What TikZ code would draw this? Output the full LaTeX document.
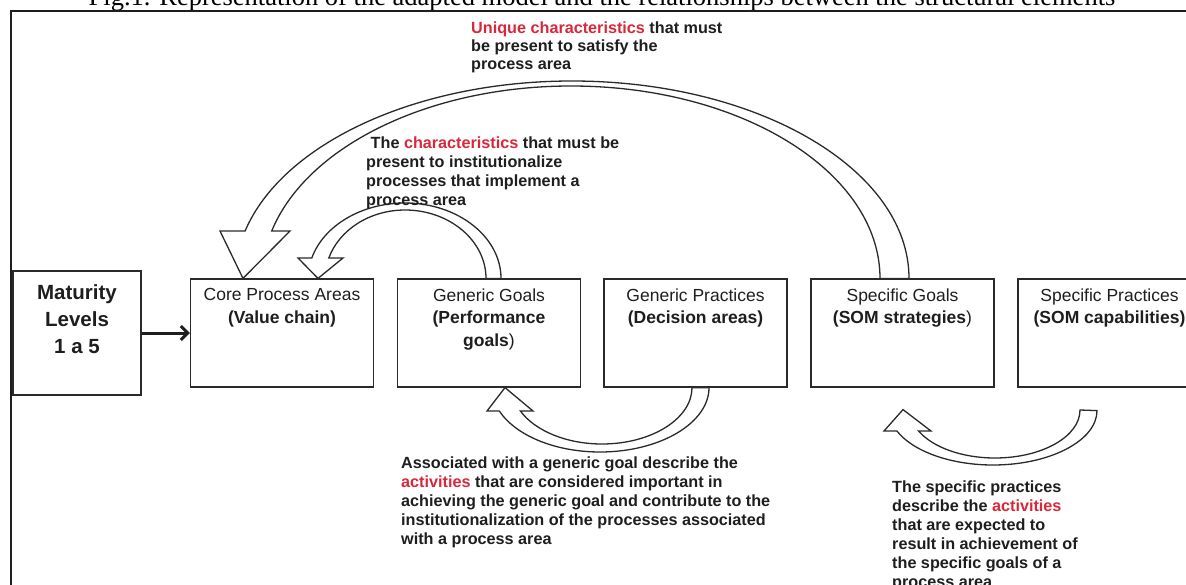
\documentclass[tikz,border=0pt]{standalone}
\usepackage{fontspec}
\setmainfont{Liberation Sans}
\newfontfamily\capfont{Liberation Serif}
\usetikzlibrary{arrows.meta,positioning,calc}
\definecolor{Ink}{HTML}{1E1E1E}
\definecolor{Edge}{HTML}{2A2A2A}
\definecolor{Alert}{HTML}{D8283A}

\newcommand{\boxfont}{\fontsize{17.5}{22.5}\selectfont}
\newcommand{\notefont}{\fontsize{16.2}{18.7}\selectfont\bfseries}
\newcommand{\hl}[1]{\textcolor{Alert}{#1}}

\begin{document}
\begin{tikzpicture}[x=1pt,y=-1pt,
  area/.style={draw=Edge,line width=1.2pt,minimum width=183pt,minimum height=108pt,inner sep=0pt},
  areatext/.style={font=\boxfont,align=center,inner sep=0pt,text=Ink},
  note/.style={font=\notefont,align=left,inner sep=0pt,anchor=north west,text=Ink},
  hollow/.style={draw=Edge,line width=1.3pt,fill=white,line join=miter},
  push/.style={-{Straight Barb[length=7pt,width=14pt]},line width=3pt,draw=Ink}
]
\useasboundingbox (0,0) rectangle (1186,584);
\clip (0,0) rectangle (1186,584);

% caption and frame
\node[font=\capfont\fontsize{26.5}{28}\selectfont,anchor=base,inner sep=0pt] (caption) at (602,5.5)
  {Fig.1. Representation of the adapted model and the relationships between the structural elements};
\draw[line width=2pt,draw=Ink] (11,600) -- (11,11) -- (1200,11);

% the boxes
\node[area,line width=1.6pt,minimum width=128pt,minimum height=124pt] (maturity) at (77,333) {};
\node[area] (core) at (282,333) {};
\node[area] (ggoals) at (489,333) {};
\node[area] (gpract) at (695.5,333) {};
\node[area] (sgoals) at (902.5,333) {};
\node[area] (spract) at (1109.5,333) {};

\node[areatext,font=\fontsize{20.5}{27}\selectfont\bfseries,below=14pt of maturity.north] (maturity-t) {Maturity\\Levels\\1 a 5};
\node[areatext,below=10pt of core.north] (core-t) {Core Process Areas\\\textbf{(Value chain)}};
\node[areatext,below=10pt of ggoals.north] (ggoals-t) {Generic Goals\\\textbf{(Performance}\\\textbf{goals})};
\node[areatext,below=10pt of gpract.north] (gpract-t) {Generic Practices\\\textbf{(Decision areas)}};
\node[areatext,below=10pt of sgoals.north] (sgoals-t) {Specific Goals\\\textbf{(SOM strategies})};
\node[areatext,below=10pt of spract.north] (spract-t) {Specific Practices\\\textbf{(SOM capabilities)}};

\draw[push] (maturity) -- (core);

% Specific Goals back to Core Process Areas
\draw[hollow] ($(sgoals.north)+(6.5,0)$)
  .. controls (909,169.6) and (758.1,81) .. (572,81)
  .. controls (417.4,81) and (282.6,142.9) .. (245.1,231)
  -- (220,231) -- ($(core.north)+(-39,0)$) -- (290,231) -- (271.7,231)
  .. controls (306.8,145.7) and (429.9,86) .. (571,86)
  .. controls (741.7,86) and (880,172.4) .. ($(sgoals.north)+(-22.5,0)$) -- cycle;

% Generic Goals back to Core Process Areas
\draw[hollow] ($(ggoals.north)+(12,0)$)
  .. controls (501,237) and (458,203) .. (405,203)
  .. controls (361.7,203) and (323.7,225.4) .. (311.8,258)
  -- (298,258) -- ($(core.north)+(36,0)$) -- (343,258) -- (328.8,258)
  .. controls (339.4,229.4) and (370.2,210) .. (405,210)
  .. controls (449.7,210) and (486,240.9) .. ($(ggoals.north)+(-3,0)$) -- cycle;

% Generic Practices to Generic Goals
\draw[hollow] ($(gpract.south)+(13.5,0)$)
  .. controls (709,422.9) and (660.2,452) .. (600,452)
  .. controls (555.4,452) and (515.8,435.7) .. (499.3,411)
  -- (487,411) -- ($(ggoals.south)+(16,0)$) -- (533,411) -- (520.4,411)
  .. controls (535.2,431.1) and (567,444) .. (602,444)
  .. controls (651.7,444) and (692,418.5) .. ($(gpract.south)+(-3.5,0)$) -- cycle;

% Specific Practices to Specific Goals
\draw[hollow] ($(spract.south)+(-12.5,23)$)
  .. controls (1097,440.4) and (1050.4,465) .. (993,465)
  .. controls (950.9,465) and (913,451.5) .. (896.9,431)
  -- (884,431) -- ($(sgoals.south)+(0.5,22)$) -- (931,431) -- (918.6,431)
  .. controls (932.8,447.5) and (962.4,458) .. (995,458)
  .. controls (1041.9,458) and (1080,436.5) .. (1080,410) -- cycle;

% notes
\node[note,font=\fontsize{16.2}{18}\selectfont\bfseries] (unique) at (471,22)
  {\hl{Unique characteristics} that must\\be present to satisfy the\\process area};
\node[note] (institute) at (366,137)
  {~The \hl{characteristics} that must be\\present to institutionalize\\processes that implement a\\process area};
\node[note,font=\fontsize{16.2}{19}\selectfont\bfseries] (associated) at (401,457)
  {Associated with a generic goal describe the\\\hl{activities} that are considered important in\\achieving the generic goal and contribute to the\\institutionalization of the processes associated\\with a process area};
\node[note,font=\fontsize{16.2}{19}\selectfont\bfseries] (specific) at (892,481)
  {The specific practices\\describe the \hl{activities}\\that are expected to\\result in achievement of\\the specific goals of a\\process area};
\end{tikzpicture}
\end{document}
